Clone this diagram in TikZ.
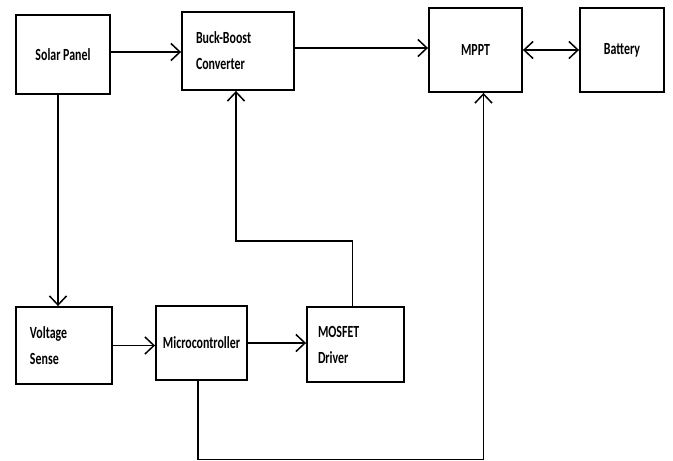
\documentclass[tikz,border=0pt]{standalone}
\usepackage{fontspec}
\setmainfont{Carlito}[FakeStretch=0.7, BoldFont={Carlito Bold}, BoldFeatures={FakeStretch=0.7}]
\usetikzlibrary{arrows.meta}
\begin{document}
\begin{tikzpicture}
[ x=1pt, y=-1pt, line width=1.9pt
, block/.style={rectangle, draw, inner sep=0pt, font=\fontsize{17}{26}\selectfont\bfseries}
, leftblock/.style={block, align=left, inner xsep=14pt}
, flow/.style={-{Straight Barb[length=9pt,width=17pt,line width=1.5pt]}}
, twoway/.style={{Straight Barb[length=9pt,width=17pt,line width=1.5pt]}-{Straight Barb[length=9pt,width=17pt,line width=1.5pt]}}
]
\useasboundingbox (0,0) rectangle (673,461);
% Top row:
\node (solar) [block, minimum width=94pt, minimum height=79pt] at (63,54.5) {Solar Panel};
\node (buck) [leftblock, text width=84pt, minimum height=78pt] at (238,51) {Buck-Boost\\Converter};
\node (mppt) [block, minimum width=93pt, minimum height=84pt] at (475.5,50) {MPPT};
\node (batt) [block, minimum width=84pt, minimum height=84pt] at (622,50) {Battery};
% Bottom row:
\node (vsense) [leftblock, text width=68pt, minimum height=77pt] at (64,345.5) {Voltage\\Sense};
\node (micro) [block, minimum width=91pt, minimum height=74pt] at (201.5,343) {Microcontroller};
\node (mosfet) [leftblock, inner xsep=11pt, text width=75pt, minimum height=75pt] at (355.5,344.5) {MOSFET\\Driver};
\coordinate (fb) at (236,241);
\coordinate (low) at (198,459.5);
\draw [flow] ([yshift=2.5pt]solar.east) -- ([yshift=2.5pt]solar.east -| buck.west);
\draw [flow] ([yshift=3pt]buck.east) -- ([yshift=3pt]buck.east -| mppt.west);
\draw [twoway] (mppt) -- (batt);
\draw [flow] ([xshift=-5pt]solar.south) -- ([xshift=-5pt]solar.south |- vsense.north);
\draw [flow] (vsense.east) -- (vsense.east -| micro.west);
\draw [flow] (micro.east) -- (micro.east -| mosfet.west);
\draw [flow] ([xshift=-3pt]mosfet.north) |- (fb) -- (fb |- buck.south);
\draw [flow] (low |- micro.south) -- (low) -| ([xshift=8pt]mppt.south);
\end{tikzpicture}
\end{document}
